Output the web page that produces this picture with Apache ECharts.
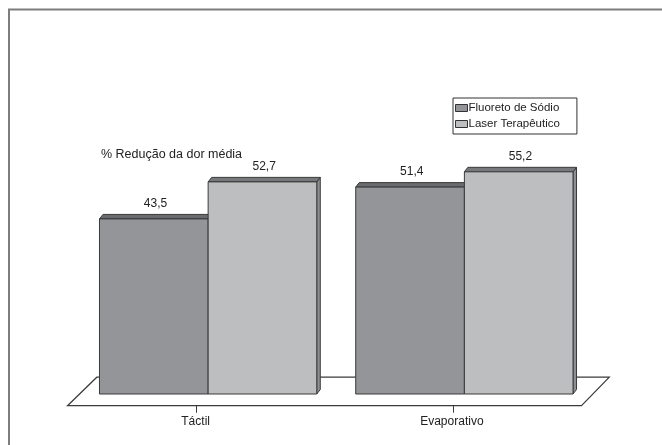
<!DOCTYPE html>
<html>
<head>
<meta charset="utf-8">
<script src="https://cdn.jsdelivr.net/npm/echarts@6/dist/echarts.min.js"></script>
<style>
  html, body { margin: 0; padding: 0; background: #fff; }
  #chart { width: 662px; height: 445px; }
</style>
</head>
<body>
<div id="chart"></div>
<script>
// Pain reduction by test type and treatment
const categories = ['Táctil', 'Evaporativo'];
const seriesNames = ['Fluoreto de Sódio', 'Laser Terapêutico'];
const fluoretoValues = [43.5, 51.4];
const laserValues = [52.7, 55.2];
const axisTitle = '% Redução da dor média';

const FONT = '"Liberation Sans", Arial, sans-serif';
const TEXT = '#222';

// Face colours per series: front, side, top
const palettes = [
  { front: '#939598', side: '#7c7d80', top: '#6a6b6e' },
  { front: '#bcbec0', side: '#8e8f92', top: '#77787b' }
];

// Small extrusion of each bar
const DEPTH = [3.5, -4.5];
const BAR_RATIO = 0.424;

function fmt(v) { return String(v).replace('.', ','); }

function barRenderer(seriesIdx) {
  return function (params, api) {
    const cat = api.value(0);
    const val = api.value(1);
    const base = api.coord([cat, 0]);
    const top = api.coord([cat, val]);
    const band = api.size([1, 0])[0];
    const w = band * BAR_RATIO;
    const x0 = seriesIdx === 0 ? base[0] - w : base[0];
    const x1 = x0 + w;
    const y0 = base[1];
    const y1 = top[1];
    const [dx, dy] = DEPTH;
    const pal = palettes[seriesIdx];
    const stroke = { stroke: '#3a3a3a', lineWidth: 1, lineJoin: 'round' };
    return {
      type: 'group',
      children: [
        { type: 'polygon', shape: { points: [[x1, y1], [x1 + dx, y1 + dy], [x1 + dx, y0 + dy], [x1, y0]] },
          style: Object.assign({ fill: pal.side }, stroke) },
        { type: 'polygon', shape: { points: [[x0, y1], [x0 + dx, y1 + dy], [x1 + dx, y1 + dy], [x1, y1]] },
          style: Object.assign({ fill: pal.top }, stroke) },
        { type: 'rect', shape: { x: x0, y: y1, width: w, height: y0 - y1 },
          style: Object.assign({ fill: pal.front }, stroke) },
        { type: 'text', x: (x0 + x1) / 2 + dx / 2, y: y1 - 15,
          style: { text: fmt(val), fill: TEXT, font: '12px ' + FONT, align: 'center', verticalAlign: 'middle' } }
      ]
    };
  };
}

// Floor plane under the bars, with category ticks on its front edge
function floorRenderer(params, api) {
  const cs = params.coordSys;
  const zero = api.coord([0, 0])[1];
  const frontY = zero + 11.7;
  const backY = zero - 16.8;
  const fl = cs.x - 12.5, fr = cs.x + cs.width - 11;
  const bl = cs.x + 16.8, br = cs.x + cs.width + 16.8;
  const children = [
    { type: 'polygon', shape: { points: [[fl, frontY], [bl, backY], [br, backY], [fr, frontY]] },
      style: { fill: '#fff', stroke: '#3a3a3a', lineWidth: 1.2 } }
  ];
  const step = (fr - fl) / categories.length;
  for (let i = 0; i < categories.length; i++) {
    const tx = Math.round(fl + step * (i + 0.5)) + 0.5;
    children.push({ type: 'line', shape: { x1: tx, y1: frontY, x2: tx, y2: frontY + 7 },
      style: { stroke: '#3a3a3a', lineWidth: 1 } });
  }
  return { type: 'group', children: children };
}

const chart = echarts.init(document.getElementById('chart'), null, { renderer: 'canvas' });

chart.setOption({
  backgroundColor: '#fff',
  animation: false,
  title: {
    text: axisTitle,
    left: 96, top: 143,
    textStyle: { fontFamily: FONT, fontSize: 12.5, fontWeight: 'normal', color: TEXT }
  },
  legend: {
    data: seriesNames,
    orient: 'vertical',
    left: 453, top: 98,
    padding: [4, 17, 4, 2],
    itemGap: 4,
    itemWidth: 12, itemHeight: 7,
    icon: 'rect',
    borderColor: '#333', borderWidth: 1,
    itemStyle: { borderColor: '#333', borderWidth: 1 },
    textStyle: { fontFamily: FONT, fontSize: 11.5, color: TEXT, padding: [0, 0, 0, -4] }
  },
  grid: { left: 80, right: 69.5, top: 152.5, bottom: 51 },
  xAxis: {
    type: 'category',
    data: categories,
    axisLine: { show: false },
    axisTick: { show: false },
    axisLabel: { margin: 22, padding: [0, 25, 0, 0], fontFamily: FONT, fontSize: 12, color: TEXT }
  },
  yAxis: { type: 'value', min: 0, max: 60, show: false, splitLine: { show: false } },
  graphic: [
    { type: 'rect', shape: { x: 9, y: 9.5, width: 700, height: 500 },
      style: { fill: 'none', stroke: '#7d7d7d', lineWidth: 2 }, z: 100, silent: true }
  ],
  series: [
    { name: '__floor', type: 'custom', renderItem: floorRenderer, data: [[0, 0]], z: 1, silent: true },
    { name: seriesNames[0], type: 'custom', renderItem: barRenderer(0),
      itemStyle: { color: palettes[0].front },
      data: fluoretoValues.map((v, i) => [i, v]), z: 2 },
    { name: seriesNames[1], type: 'custom', renderItem: barRenderer(1),
      itemStyle: { color: palettes[1].front },
      data: laserValues.map((v, i) => [i, v]), z: 3 }
  ]
});
</script>
</body>
</html>
